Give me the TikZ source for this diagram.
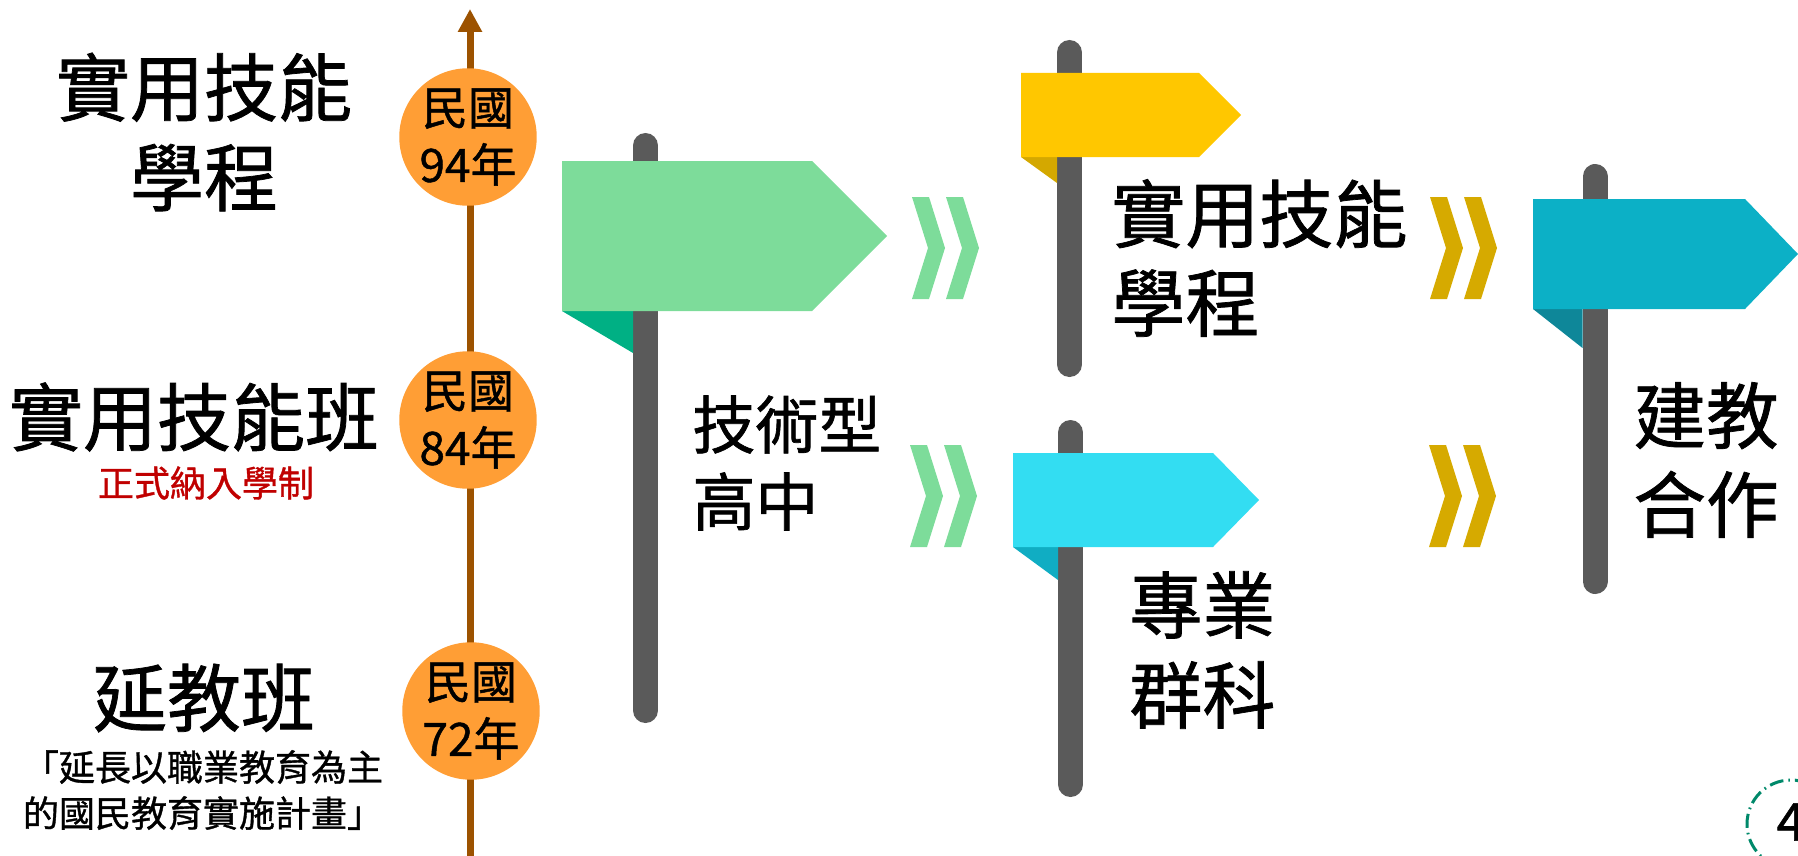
\documentclass[tikz,border=0pt]{standalone}
\usepackage{fontspec}
\setmainfont{Noto Sans CJK TC}[FakeBold=1]
\usetikzlibrary{arrows.meta}

\definecolor{timebrown}{HTML}{9C5200}
\definecolor{yearorange}{HTML}{FF9E35}
\definecolor{polegray}{HTML}{5A5A5A}
\definecolor{flaggreen}{HTML}{7DDC9A}
\definecolor{foldgreen}{HTML}{00B084}
\definecolor{flagyellow}{HTML}{FFC700}
\definecolor{foldyellow}{HTML}{D4A800}
\definecolor{chevgold}{HTML}{D6AA00}
\definecolor{flagcyan}{HTML}{33DDF2}
\definecolor{foldcyan}{HTML}{10ADC3}
\definecolor{flagteal}{HTML}{0CB0C6}
\definecolor{foldteal}{HTML}{0E8799}
\definecolor{markred}{HTML}{C00000}
\definecolor{ringgreen}{HTML}{00896A}

\begin{document}
\begin{tikzpicture}[x=0.5pt, y=-0.5pt, font=\fontsize{18}{23}\selectfont]
    \tikzstyle{year_node} = [circle, fill=yearorange, minimum size=67pt, inner sep=0pt, align=center, font=\fontsize{23}{28.5}\selectfont]
    \tikzstyle{title_big} = [inner sep=0pt, align=center, font=\fontsize{37}{45}\selectfont]
    \tikzstyle{title_small} = [inner sep=0pt, align=center, font=\fontsize{18}{23}\selectfont]
    \tikzstyle{sign_text} = [inner sep=0pt, anchor=west, align=left]
    \tikzstyle{timeline} = [-{Triangle[length=11.5pt, width=11.5pt]}, line width=3.5pt, timebrown]
    \tikzstyle{pole} = [line width=12.5pt, line cap=round, polegray]
    \tikzstyle{page_ring} = [circle, draw=ringgreen, line width=1.5pt, dash pattern=on 7pt off 2.5pt on 0.8pt off 2.5pt, minimum size=44pt, inner sep=0pt]

    \useasboundingbox (0,0) rectangle (1798,856);
    \clip (0,0) rectangle (1798,856);

    % timeline
    \coordinate (tl_start) at (470,860);
    \coordinate (tl_end) at (470,9);
    \draw[timeline] (tl_start) -- (tl_end);

    \node[year_node] (y94) at (468,137) {民國\\94年};
    \node[year_node] (y84) at (468,420) {民國\\84年};
    \node[year_node] (y72) at (471,711) {民國\\72年};

    \node[title_big] (t94) at (204,132) {實用技能\\學程};
    \node[title_big] (t84) at (194,417) {實用技能班};
    \node[title_small, markred] (t84note) at (206,483) {正式納入學制};
    \node[title_big] (t72) at (204,698) {延教班};
    \node[title_small] (t72note) at (203,790) {「延長以職業教育為主\\的國民教育實施計畫」};

    % signs: pole x, pole top, pole bottom, flag left, top, bottom, body end, tip, fold end
    \foreach \poleX/\poleT/\poleB/\flagL/\flagT/\flagB/\flagR/\flagTip/\foldY/\cflag/\cfold in {
        645.5/133/723/562/161/311/812/887/353/flaggreen/foldgreen,
        1069.5/40/377/1021/73/157/1199/1241/183/flagyellow/foldyellow,
        1070.5/420/797/1013/453/547/1213/1259/580/flagcyan/foldcyan,
        1595/164/594/1533/199/309/1745/1798/348/flagteal/foldteal}
    {
        \draw[pole] (\poleX,\poleT+12.5) -- (\poleX,\poleB-12.5);
        \fill[\cfold] (\flagL,\flagB) -- (\poleX-12.5,\flagB) -- (\poleX-12.5,\foldY) -- cycle;
        \fill[\cflag] (\flagL,\flagT) -- (\flagR,\flagT) -- (\flagTip,{(\flagT+\flagB)/2}) -- (\flagR,\flagB) -- (\flagL,\flagB) -- cycle;
    }

    \foreach \cx/\cy/\ccol in {912/248/flaggreen, 910/496/flaggreen, 1430/248/chevgold, 1429/496/chevgold}
        \foreach \k in {0,34}
            \fill[\ccol] (\cx+\k,\cy-51) -- (\cx+\k+17,\cy-51) -- (\cx+\k+33,\cy) -- (\cx+\k+17,\cy+51) -- (\cx+\k,\cy+51) -- (\cx+\k+16,\cy) -- cycle;

    \node[sign_text, font=\fontsize{31.5}{38.5}\selectfont] (s_tech) at (692,463) {技術型\\高中};
    \node[sign_text, font=\fontsize{37}{44.5}\selectfont] (s_prog) at (1111,258) {實用技能\\學程};
    \node[sign_text, font=\fontsize{36.5}{45}\selectfont] (s_dept) at (1129,650) {專業\\群科};
    \node[sign_text, font=\fontsize{36.3}{44.5}\selectfont] (s_coop) at (1633,460) {建教\\合作};

    % page number
    \node[inner sep=0pt, font=\fontsize{26}{26}\selectfont] (pagenum) at (1791,822) {4};
    \node[page_ring] (ring) at (1791,824) {};

\end{tikzpicture}
\end{document}
